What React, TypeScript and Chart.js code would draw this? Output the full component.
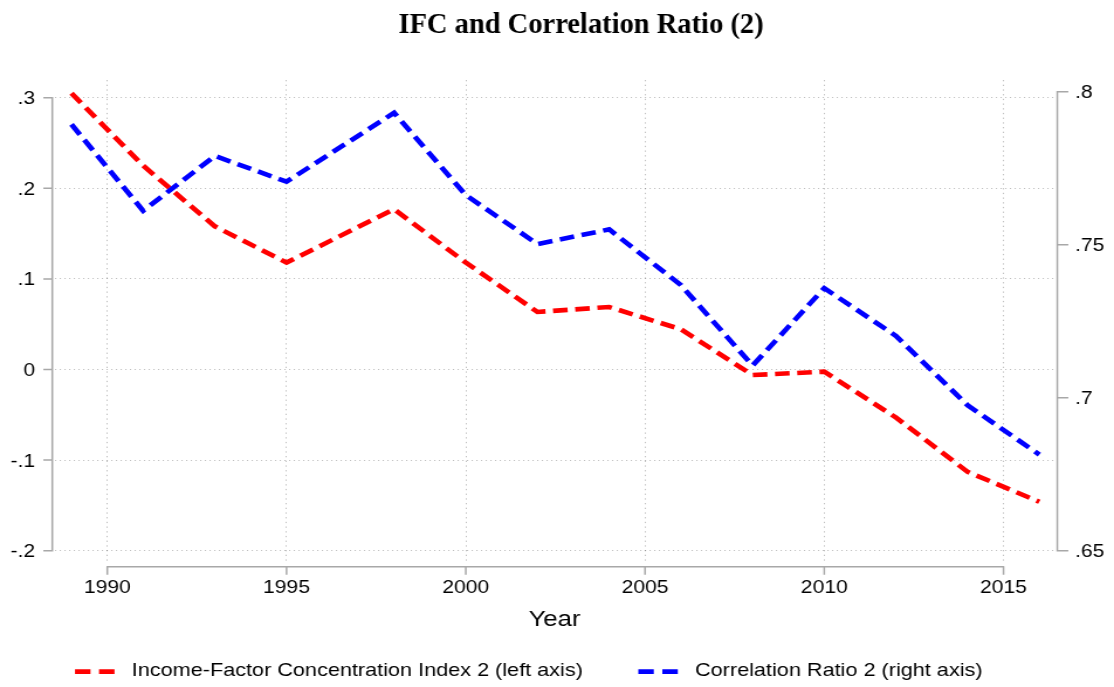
import React, { useEffect, useRef } from "react";
import { Chart, registerables } from "chart.js";

Chart.register(...registerables);

// ---------------- data ----------------
const years = [1989, 1991, 1993, 1995, 1998, 2000, 2002, 2004, 2006, 2008, 2010, 2012, 2014, 2016];
const ifcIndex2 = [0.305, 0.225, 0.158, 0.118, 0.177, 0.118, 0.0635, 0.069, 0.0444, -0.0061, -0.0024, -0.053, -0.113, -0.146];
const corrRatio2 = [0.7893, 0.7611, 0.779, 0.7706, 0.7931, 0.7662, 0.7502, 0.755, 0.7368, 0.7105, 0.7358, 0.7202, 0.6975, 0.6814];

const xTicks = [1990, 1995, 2000, 2005, 2010, 2015];
const leftTicks = [-0.2, -0.1, 0, 0.1, 0.2, 0.3];
const rightTicks = [0.65, 0.7, 0.75, 0.8];

const chartTitle = "IFC and Correlation Ratio (2)";
const xAxisTitle = "Year";
const seriesLabels = ["Income-Factor Concentration Index 2 (left axis)", "Correlation Ratio 2 (right axis)"];
const seriesColors = ["#ff0000", "#0000ff"];

// ---------------- layout ----------------
const PAGE_W = 1114;
const PAGE_H = 687;
const CW = 952; // internal canvas width, stretched to PAGE_W
const S = PAGE_W / CW;
const SANS = '"Liberation Sans", Arial, Helvetica, sans-serif';
const SERIF = '"Liberation Serif", "Times New Roman", serif';
const AXIS_COLOR = "#a8a8a8";
const GRID_COLOR = "rgba(0,0,0,0.25)";

const fmt = (v: number) => {
  const r = Math.round(v * 100) / 100;
  if (r === 0) return "0";
  return String(r).replace(/^(-?)0\./, "$1.");
};

const decorPlugin = {
  id: "decor",
  afterDraw(chart: any) {
    const { ctx, chartArea, scales } = chart;
    const x = scales.x;
    const yl = scales.y;
    const yr = scales.y1;
    ctx.save();
    ctx.setLineDash([]);
    ctx.strokeStyle = AXIS_COLOR;
    ctx.lineWidth = 1.5;
    ctx.lineCap = "butt";

    // left axis
    const lx = chartArea.left - 3.2 / S;
    const lTop = yl.getPixelForValue(leftTicks[leftTicks.length - 1]);
    const lBot = yl.getPixelForValue(leftTicks[0]);
    ctx.beginPath();
    ctx.moveTo(lx, lTop - 0.75);
    ctx.lineTo(lx, lBot + 0.75);
    leftTicks.forEach((t) => {
      const p = yl.getPixelForValue(t);
      ctx.moveTo(lx, p);
      ctx.lineTo(lx - 9 / S, p);
    });
    ctx.stroke();

    // right axis
    const rx = chartArea.right + 3.8 / S;
    const rTop = yr.getPixelForValue(rightTicks[rightTicks.length - 1]);
    const rBot = yr.getPixelForValue(rightTicks[0]);
    ctx.beginPath();
    ctx.moveTo(rx, rTop - 0.75);
    ctx.lineTo(rx, rBot + 0.75);
    rightTicks.forEach((t) => {
      const p = yr.getPixelForValue(t);
      ctx.moveTo(rx, p);
      ctx.lineTo(rx + 11 / S, p);
    });
    ctx.stroke();

    // bottom axis
    const by = chartArea.bottom + 3.7;
    const bL = x.getPixelForValue(xTicks[0]);
    const bR = x.getPixelForValue(xTicks[xTicks.length - 1]);
    ctx.beginPath();
    ctx.moveTo(bL - 0.75 / S, by);
    ctx.lineTo(bR + 0.75 / S, by);
    xTicks.forEach((t) => {
      const p = x.getPixelForValue(t);
      ctx.moveTo(p, by);
      ctx.lineTo(p, by + 8);
    });
    ctx.stroke();

    // title (not stretched)
    ctx.save();
    ctx.scale(1 / S, 1);
    ctx.fillStyle = "#000";
    ctx.font = `bold 28.5px ${SERIF}`;
    ctx.textAlign = "center";
    ctx.textBaseline = "alphabetic";
    ctx.fillText(chartTitle, 581, 33.3);
    ctx.restore();

    // legend
    const items = chart.data.datasets.map((d: any, i: number) => ({
      label: d.label,
      color: d.borderColor,
      sx: [75, 638.3][i] / S,
      tx: [131.7, 695][i] / S,
    }));
    ctx.font = `18.5px ${SANS}`;
    ctx.textAlign = "left";
    ctx.textBaseline = "middle";
    items.forEach((it: any) => {
      ctx.strokeStyle = it.color;
      ctx.lineWidth = 4.7;
      const dash = 15.5 / S;
      const gap = 8.5 / S;
      ctx.beginPath();
      ctx.moveTo(it.sx, 671.7);
      ctx.lineTo(it.sx + dash, 671.7);
      ctx.moveTo(it.sx + dash + gap, 671.7);
      ctx.lineTo(it.sx + 2 * dash + gap, 671.7);
      ctx.stroke();
      ctx.fillStyle = "#000";
      ctx.fillText(it.label, it.tx, 670.5);
    });
    ctx.restore();
  },
};

export default function App() {
  const ref = useRef<HTMLCanvasElement | null>(null);

  useEffect(() => {
    if (!ref.current) return;
    const tickFont = { family: SANS, size: 18 };
    const chart = new Chart(ref.current, {
      type: "line",
      data: {
        datasets: [
          {
            label: seriesLabels[0],
            data: years.map((yr, i) => ({ x: yr, y: ifcIndex2[i] })),
            yAxisID: "y",
            borderColor: seriesColors[0],
            backgroundColor: seriesColors[0],
            borderWidth: 4.6,
            borderDash: [12.5, 6.5],
            pointRadius: 0,
            tension: 0,
            fill: false,
            order: 2,
          },
          {
            label: seriesLabels[1],
            data: years.map((yr, i) => ({ x: yr, y: corrRatio2[i] })),
            yAxisID: "y1",
            borderColor: seriesColors[1],
            backgroundColor: seriesColors[1],
            borderWidth: 4.6,
            borderDash: [12.5, 6.5],
            pointRadius: 0,
            tension: 0,
            fill: false,
            order: 1,
          },
        ],
      },
      options: {
        responsive: false,
        animation: false,
        devicePixelRatio: 1,
        events: [],
        layout: { padding: { top: 80, left: 0, right: 0, bottom: 0 } },
        plugins: {
          legend: { display: false },
          title: { display: false },
          tooltip: { enabled: false },
        },
        scales: {
          x: {
            type: "linear",
            position: "bottom",
            min: 1988.555,
            max: 2016.395,
            afterBuildTicks: (s: any) => {
              s.ticks = xTicks.map((v) => ({ value: v }));
            },
            afterFit: (s: any) => {
              s.height = 124;
            },
            ticks: {
              font: tickFont,
              color: "#000",
              padding: 14,
              maxRotation: 0,
              autoSkip: false,
              callback: (v: any) => String(v),
            },
            grid: { display: true, color: GRID_COLOR, lineWidth: 1, drawTicks: false },
            border: { display: false, dash: [1.3, 3.4] },
            title: {
              display: true,
              text: xAxisTitle,
              color: "#000",
              font: { family: SANS, size: 22 },
              padding: { top: 0, bottom: 53.5 },
            },
          },
          y: {
            type: "linear",
            position: "left",
            min: -0.21358,
            max: 0.31954,
            afterBuildTicks: (s: any) => {
              s.ticks = leftTicks.map((v) => ({ value: v }));
            },
            afterFit: (s: any) => {
              s.width = 47.43;
            },
            ticks: {
              font: tickFont,
              color: "#000",
              padding: 17.5,
              labelOffset: 1.5,
              callback: (v: any) => fmt(Number(v)),
            },
            grid: { display: true, color: GRID_COLOR, lineWidth: 1, drawTicks: false },
            border: { display: false, dash: [1.1, 2.9] },
          },
          y1: {
            type: "linear",
            position: "right",
            min: 0.64598,
            max: 0.80382,
            afterBuildTicks: (s: any) => {
              s.ticks = rightTicks.map((v) => ({ value: v }));
            },
            afterFit: (s: any) => {
              s.width = CW - 900.3;
            },
            ticks: {
              font: tickFont,
              color: "#000",
              padding: 18.4,
              labelOffset: 1,
              callback: (v: any) => fmt(Number(v)),
            },
            grid: { display: false, drawTicks: false },
            border: { display: false },
          },
        },
      },
      plugins: [decorPlugin],
    } as any);
    return () => chart.destroy();
  }, []);

  return (
    <div style={{ position: "absolute", left: 0, top: 0, width: PAGE_W, height: PAGE_H, overflow: "hidden", background: "#fff" }}>
      <canvas
        ref={ref}
        width={CW}
        height={PAGE_H}
        style={{ display: "block", width: PAGE_W + "px", height: PAGE_H + "px" }}
      />
    </div>
  );
}
